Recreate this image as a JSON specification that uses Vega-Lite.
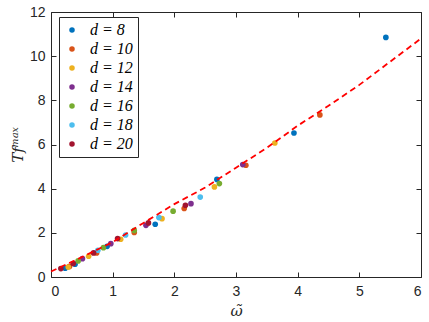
{
  "$schema": "https://vega.github.io/schema/vega-lite/v6.json",
  "width": 370,
  "height": 265,
  "autosize": {"type": "none"},
  "padding": {"left": 51, "top": 12, "right": 8, "bottom": 45},
  "background": "white",
  "config": {
    "view": {"stroke": null},
    "axis": {
      "domainColor": "#262626",
      "domainWidth": 1,
      "tickColor": "#262626",
      "tickSize": -5,
      "tickWidth": 1,
      "labelColor": "#262626",
      "labelFont": "Liberation Sans",
      "labelFontSize": 14,
      "grid": false,
      "titleColor": "#262626",
      "titleFont": "DejaVu Serif",
      "titleFontStyle": "italic",
      "titleFontWeight": "normal",
      "titleFontSize": 15
    }
  },
  "datasets": {
    "points": [
      {"d": 8, "omega": 0.23, "T": 0.40},
      {"d": 8, "omega": 0.39, "T": 0.58},
      {"d": 8, "omega": 0.91, "T": 1.39},
      {"d": 8, "omega": 1.69, "T": 2.39},
      {"d": 8, "omega": 2.69, "T": 4.42},
      {"d": 8, "omega": 3.94, "T": 6.52},
      {"d": 8, "omega": 5.43, "T": 10.85},
      {"d": 10, "omega": 0.30, "T": 0.48},
      {"d": 10, "omega": 0.74, "T": 1.09},
      {"d": 10, "omega": 1.35, "T": 2.02},
      {"d": 10, "omega": 2.16, "T": 3.10},
      {"d": 10, "omega": 3.16, "T": 5.06},
      {"d": 10, "omega": 4.36, "T": 7.34},
      {"d": 12, "omega": 0.28, "T": 0.45},
      {"d": 12, "omega": 0.61, "T": 0.94},
      {"d": 12, "omega": 1.13, "T": 1.71},
      {"d": 12, "omega": 1.80, "T": 2.64},
      {"d": 12, "omega": 2.65, "T": 4.08},
      {"d": 12, "omega": 3.63, "T": 6.07},
      {"d": 14, "omega": 0.51, "T": 0.83},
      {"d": 14, "omega": 0.97, "T": 1.51},
      {"d": 14, "omega": 1.54, "T": 2.34},
      {"d": 14, "omega": 2.27, "T": 3.32},
      {"d": 14, "omega": 3.11, "T": 5.09},
      {"d": 16, "omega": 0.44, "T": 0.73},
      {"d": 16, "omega": 0.85, "T": 1.33},
      {"d": 16, "omega": 1.35, "T": 2.11},
      {"d": 16, "omega": 1.98, "T": 2.98},
      {"d": 16, "omega": 2.73, "T": 4.23},
      {"d": 18, "omega": 0.76, "T": 1.21},
      {"d": 18, "omega": 1.21, "T": 1.90},
      {"d": 18, "omega": 1.75, "T": 2.69},
      {"d": 18, "omega": 2.42, "T": 3.62},
      {"d": 20, "omega": 0.16, "T": 0.38},
      {"d": 20, "omega": 0.36, "T": 0.61},
      {"d": 20, "omega": 0.69, "T": 1.09},
      {"d": 20, "omega": 1.08, "T": 1.74},
      {"d": 20, "omega": 1.58, "T": 2.45},
      {"d": 20, "omega": 2.18, "T": 3.25}
    ],
    "curve": [
      {"omega": 0.0, "T": 0.25},
      {"omega": 0.5, "T": 0.9},
      {"omega": 1.0, "T": 1.58},
      {"omega": 1.5, "T": 2.45},
      {"omega": 2.0, "T": 3.3},
      {"omega": 2.5, "T": 4.05},
      {"omega": 3.0, "T": 4.95},
      {"omega": 3.5, "T": 5.85},
      {"omega": 4.0, "T": 6.85},
      {"omega": 4.5, "T": 7.75},
      {"omega": 5.0, "T": 8.7},
      {"omega": 5.5, "T": 9.75},
      {"omega": 6.0, "T": 10.8}
    ]
  },
  "layer": [
    {
      "data": {"name": "points"},
      "mark": {"type": "circle", "size": 32, "opacity": 1},
      "encoding": {
        "x": {
          "field": "omega", "type": "quantitative",
          "scale": {"domain": [0, 6], "nice": false},
          "axis": {"orient": "top", "values": [0, 1, 2, 3, 4, 5, 6], "labels": false, "title": null}
        },
        "y": {
          "field": "T", "type": "quantitative",
          "scale": {"domain": [0, 12], "nice": false},
          "axis": {"orient": "right", "values": [0, 2, 4, 6, 8, 10, 12], "labels": false, "title": null}
        },
        "color": {
          "field": "d", "type": "nominal",
          "scale": {
            "domain": [8, 10, 12, 14, 16, 18, 20],
            "range": ["#0072BD", "#D95319", "#EDB120", "#7E2F8E", "#77AC30", "#4DBEEE", "#A2142F"]
          },
          "legend": {
            "title": null,
            "orient": "none",
            "legendX": 8,
            "legendY": 5,
            "labelExpr": "'d = ' + datum.label",
            "labelFont": "Liberation Serif",
            "labelFontStyle": "italic",
            "labelFontWeight": "normal",
            "labelFontSize": 16,
            "labelColor": "#000000",
            "symbolType": "circle",
            "symbolSize": 30,
            "symbolStrokeWidth": 0,
            "rowPadding": 3,
            "labelOffset": 10,
            "padding": 5,
            "strokeColor": "#262626",
            "fillColor": "white",
            "cornerRadius": 0
          }
        }
      }
    },
    {
      "data": {"name": "curve"},
      "mark": {"type": "line", "color": "#FF0000", "strokeWidth": 1.8, "strokeDash": [6, 4]},
      "encoding": {
        "x": {
          "field": "omega", "type": "quantitative",
          "axis": {"orient": "bottom", "values": [0, 1, 2, 3, 4, 5, 6], "labelPadding": 12, "title": "ω̃", "titlePadding": 5}
        },
        "y": {
          "field": "T", "type": "quantitative",
          "axis": {"orient": "left", "values": [0, 2, 4, 6, 8, 10, 12], "labelPadding": 11, "title": "Tfᵐᵃˣ", "titlePadding": 4}
        }
      }
    }
  ],
  "resolve": {"axis": {"x": "independent", "y": "independent"}}
}
